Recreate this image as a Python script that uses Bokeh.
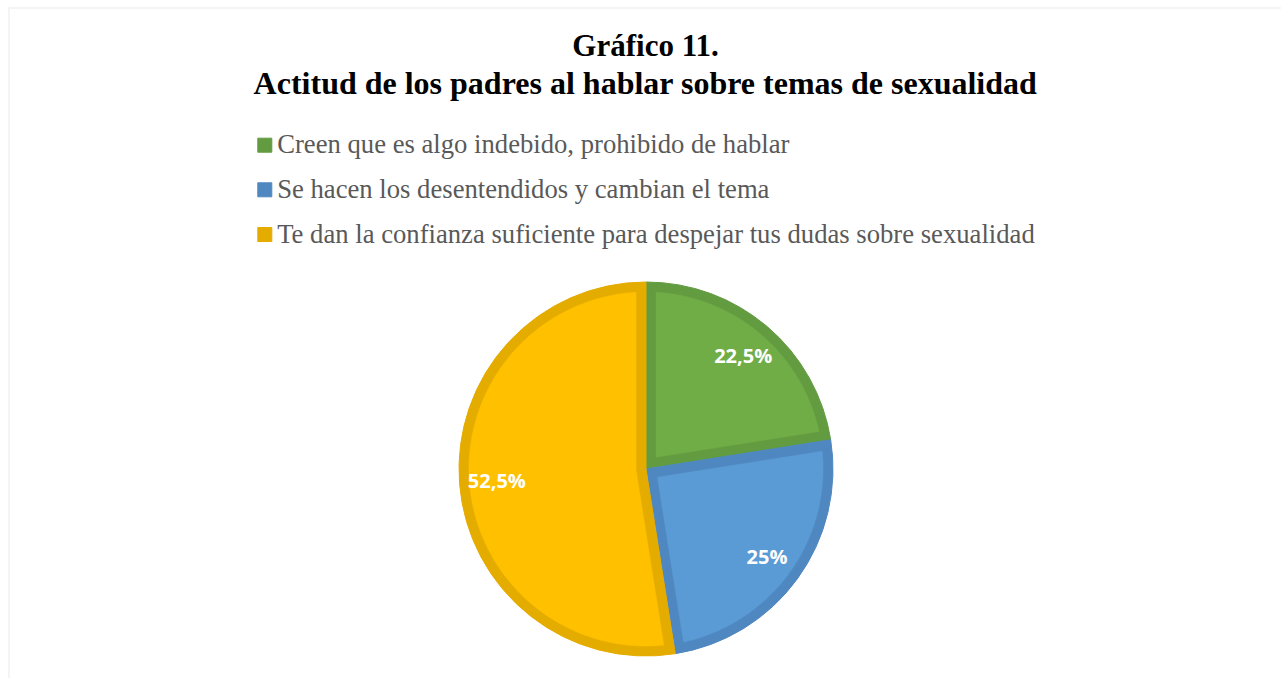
import numpy as np
from bokeh.plotting import figure
from bokeh.models import Range1d, BoxAnnotation, ColumnDataSource
from bokeh.core.properties import value
from bokeh.embed import file_html
from bokeh.resources import INLINE

# ---- data ----
categories = [
    "Creen que es algo indebido, prohibido de hablar",
    "Se hacen los desentendidos y cambian el tema",
    "Te dan la confianza suficiente para despejar tus dudas sobre sexualidad",
]
percentages = [22.5, 25.0, 52.5]
pct_labels = ["22,5%", "25%", "52,5%"]
title_line1 = "Gráfico 11."
title_line2 = "Actitud de los padres al hablar sobre temas de sexualidad"

fill_colors = ["#70AD47", "#5B9BD5", "#FFC000"]
dark_colors = ["#639B41", "#4F88C0", "#E5AC00"]

# ---- layout (data units == pixels) ----
W, H = 1281, 678
CX, CY, R = 645.5, 209.5, 187.0
D = 10.0  # inner darker border width

p = figure(width=W, height=H, x_range=Range1d(0, W), y_range=Range1d(0, H),
           output_backend="svg", toolbar_location=None, min_border=0,
           x_axis_location=None, y_axis_location=None,
           outline_line_color=None, background_fill_color="white",
           border_fill_color="white")
p.xgrid.visible = False
p.ygrid.visible = False

# chart-area border (top & left visible)
p.add_layout(BoxAnnotation(left=8.5, right=W + 50, bottom=-50, top=H - 7.5,
                           fill_color=None, line_color="#D9D9D9", line_width=2))

frac = np.array(percentages) / sum(percentages)
cum = np.concatenate([[0.0], np.cumsum(frac)])
start = np.pi / 2 - 2 * np.pi * cum[:-1]
end = np.pi / 2 - 2 * np.pi * cum[1:]

# dark base wedges
src = ColumnDataSource(dict(start=start, end=end, dark=dark_colors))
p.wedge(x=CX, y=CY, radius=R, start_angle="start", end_angle="end",
        direction="clock", fill_color="dark", line_color="dark",
        line_width=1, source=src)

# lighter inner regions (inset by D)
xs, ys = [], []
rho = R - D
delta = np.arcsin(D / rho)
for s, e, f in zip(start, end, frac):
    alpha = np.pi * f
    beta = (s + e) / 2
    arc = np.linspace(s - delta, e + delta, 200)
    cxr = CX + (D / np.sin(alpha)) * np.cos(beta)
    cyr = CY + (D / np.sin(alpha)) * np.sin(beta)
    xs.append(list(CX + rho * np.cos(arc)) + [cxr])
    ys.append(list(CY + rho * np.sin(arc)) + [cyr])
p.patches(xs, ys, fill_color=fill_colors, line_color=fill_colors, line_width=0.5)

# data labels
mid = (start + end) / 2
lf = 0.80
p.text(x=CX + lf * R * np.cos(mid), y=CY + lf * R * np.sin(mid), text=pct_labels,
       text_color="white", text_font=value("Open Sans"), text_font_style="bold",
       text_font_size="20px", text_align="center", text_baseline="middle")

# title
p.text(x=[645.0], y=[633], text=[title_line1], text_color="black",
       text_font=value("Liberation Serif"), text_font_style="bold",
       text_font_size="31px", text_align="center", text_baseline="alphabetic")
p.text(x=[645.0], y=[596], text=[title_line2], text_color="black",
       text_font=value("Liberation Serif"), text_font_style="bold",
       text_font_size="32px", text_align="center", text_baseline="alphabetic")

# legend
leg_y = [533.3, 488.7, 444.0]
p.scatter(x=[264.3] * 3, y=leg_y, marker="square", size=14,
          fill_color=dark_colors, line_color=dark_colors)
p.text(x=[276.7] * 3, y=[yy + 1 for yy in leg_y], text=categories,
       text_color="#595959", text_font=value("Liberation Serif"),
       text_font_size="26.67px", text_align="left", text_baseline="alphabetic")

open("out.html", "w").write(file_html(p, INLINE))
